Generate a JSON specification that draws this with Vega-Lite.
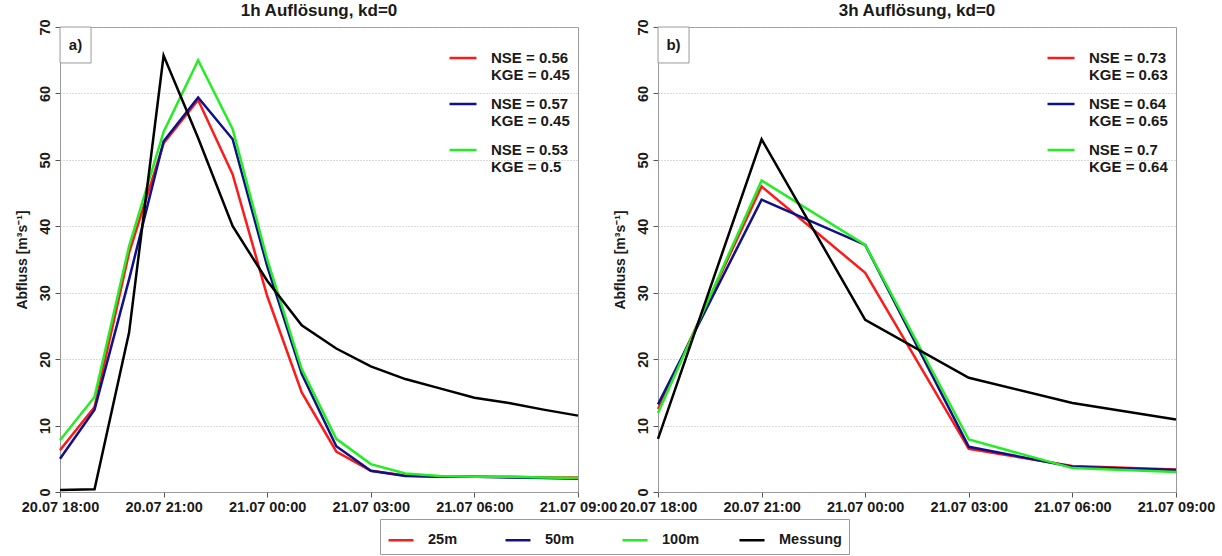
{
  "$schema": "https://vega.github.io/schema/vega-lite/v6.json",
  "background": "white",
  "padding": {"left": 14, "top": 1, "right": 10, "bottom": 0},
  "datasets": {
    "a": [
      {"t": "2021-07-20T18:00:00Z", "25m": 6.3, "50m": 5.0, "100m": 7.8, "Messung": 0.3},
      {"t": "2021-07-20T19:00:00Z", "25m": 12.8, "50m": 12.4, "100m": 14.3, "Messung": 0.4},
      {"t": "2021-07-20T20:00:00Z", "25m": 36.0, "50m": 32.0, "100m": 37.0, "Messung": 24.0},
      {"t": "2021-07-20T21:00:00Z", "25m": 52.5, "50m": 52.8, "100m": 54.2, "Messung": 65.7},
      {"t": "2021-07-20T22:00:00Z", "25m": 59.0, "50m": 59.4, "100m": 65.0, "Messung": 53.3},
      {"t": "2021-07-20T23:00:00Z", "25m": 47.8, "50m": 53.1, "100m": 54.6, "Messung": 40.0},
      {"t": "2021-07-21T00:00:00Z", "25m": 29.5, "50m": 34.0, "100m": 35.0, "Messung": 31.8},
      {"t": "2021-07-21T01:00:00Z", "25m": 15.0, "50m": 17.8, "100m": 18.5, "Messung": 25.1},
      {"t": "2021-07-21T02:00:00Z", "25m": 6.1, "50m": 6.9, "100m": 8.0, "Messung": 21.6},
      {"t": "2021-07-21T03:00:00Z", "25m": 3.2, "50m": 3.2, "100m": 4.2, "Messung": 18.9},
      {"t": "2021-07-21T04:00:00Z", "25m": 2.5, "50m": 2.4, "100m": 2.8, "Messung": 17.0},
      {"t": "2021-07-21T05:00:00Z", "25m": 2.3, "50m": 2.3, "100m": 2.4, "Messung": 15.6},
      {"t": "2021-07-21T06:00:00Z", "25m": 2.3, "50m": 2.3, "100m": 2.3, "Messung": 14.2},
      {"t": "2021-07-21T07:00:00Z", "25m": 2.3, "50m": 2.2, "100m": 2.3, "Messung": 13.4},
      {"t": "2021-07-21T08:00:00Z", "25m": 2.2, "50m": 2.1, "100m": 2.2, "Messung": 12.4},
      {"t": "2021-07-21T09:00:00Z", "25m": 2.2, "50m": 2.0, "100m": 2.1, "Messung": 11.5}
    ],
    "b": [
      {"t": "2021-07-20T18:00:00Z", "25m": 12.5, "50m": 13.2, "100m": 11.9, "Messung": 8.0},
      {"t": "2021-07-20T21:00:00Z", "25m": 46.0, "50m": 44.0, "100m": 46.9, "Messung": 53.1},
      {"t": "2021-07-21T00:00:00Z", "25m": 33.0, "50m": 37.2, "100m": 37.2, "Messung": 25.9},
      {"t": "2021-07-21T03:00:00Z", "25m": 6.5, "50m": 6.8, "100m": 7.9, "Messung": 17.2},
      {"t": "2021-07-21T06:00:00Z", "25m": 3.9, "50m": 3.8, "100m": 3.6, "Messung": 13.4},
      {"t": "2021-07-21T09:00:00Z", "25m": 3.4, "50m": 3.3, "100m": 3.0, "Messung": 10.9}
    ]
  },
  "spacing": 80,
  "bounds": "flush",
  "resolve": {"scale": {"stroke": "independent"}, "legend": {"stroke": "independent"}},
  "hconcat": [
    {
      "width": 518,
      "height": 465,
      "title": "1h Auflösung, kd=0",
      "layer": [
        {
          "data": {"values": [{"tag": "a)"}]},
          "mark": {"type": "point", "shape": "M-1,-1.16H1V1.16H-1Z", "size": 961, "filled": true, "fill": "white", "stroke": "#9a9a9a", "strokeWidth": 1, "opacity": 1},
          "encoding": {
            "x": {"datum": {"year": 2021, "month": 7, "date": 20, "hours": 18, "minutes": 27, "utc": true}, "type": "temporal"},
            "y": {"datum": 67.29, "type": "quantitative"}
          }
        },
        {
          "data": {"values": [{"tag": "a)"}]},
          "mark": {"type": "text", "font": "Liberation Sans", "fontSize": 15, "fontWeight": "bold", "color": "#1a1a1a"},
          "encoding": {
            "x": {"datum": {"year": 2021, "month": 7, "date": 20, "hours": 18, "minutes": 27, "utc": true}, "type": "temporal"},
            "y": {"datum": 67.3, "type": "quantitative"},
            "text": {"field": "tag"}
          }
        },
        {
          "data": {"name": "a"},
          "transform": [{"fold": ["25m", "50m", "100m"], "as": ["series", "value"]}],
          "mark": {"type": "line", "opacity": 0, "strokeWidth": 2.5},
          "encoding": {
            "x": {"field": "t", "type": "temporal"},
            "y": {"field": "value", "type": "quantitative"},
            "stroke": {
              "field": "series", "type": "nominal",
              "scale": {"domain": ["25m", "50m", "100m"], "range": ["#ff1a1a", "#10108a", "#22ee22"]},
              "legend": {"orient": "top-right", "offset": 8, "title": " ", "titleFontSize": 5, "titlePadding": 3, "labelExpr": "datum.label == '25m' ? ['NSE = 0.56', 'KGE = 0.45'] : datum.label == '50m' ? ['NSE = 0.57', 'KGE = 0.45'] : ['NSE = 0.53', 'KGE = 0.5']", "symbolType": "stroke", "symbolSize": 729, "symbolStrokeWidth": 2.5, "labelOffset": 13, "rowPadding": 6, "labelLimit": 300, "labelFontSize": 15}
            }
          }
        },
        {
          "data": {"name": "a"},
          "transform": [{"fold": ["25m", "50m", "100m", "Messung"], "as": ["series", "value"]}],
          "mark": {"type": "line", "strokeWidth": 2.5},
          "encoding": {
            "x": {
              "field": "t", "type": "temporal", "title": null,
              "scale": {"type": "utc", "domain": ["2021-07-20T18:00:00Z", "2021-07-21T09:00:00Z"]},
              "axis": {"format": "%d.%m %H:%M", "tickCount": 6}
            },
            "y": {
              "field": "value", "type": "quantitative", "title": "Abfluss [m³s⁻¹]",
              "scale": {"domain": [0, 70], "nice": false},
              "axis": {"values": [0, 10, 20, 30, 40, 50, 60, 70]}
            },
            "color": {
              "field": "series", "type": "nominal",
              "scale": {"domain": ["25m", "50m", "100m", "Messung"], "range": ["#ff1a1a", "#10108a", "#22ee22", "#000000"]},
              "legend": {"orient": "bottom", "direction": "horizontal", "title": null, "symbolType": "stroke", "symbolSize": 625, "symbolStrokeWidth": 2.5, "labelOffset": 13, "columnPadding": 9, "gridAlign": "all", "strokeColor": "#9a9a9a", "padding": 7, "offset": 5}
            }
          }
        }
      ]
    },
    {
      "width": 518,
      "height": 465,
      "title": "3h Auflösung, kd=0",
      "layer": [
        {
          "data": {"values": [{"tag": "b)"}]},
          "mark": {"type": "point", "shape": "M-1,-1.16H1V1.16H-1Z", "size": 961, "filled": true, "fill": "white", "stroke": "#9a9a9a", "strokeWidth": 1, "opacity": 1},
          "encoding": {
            "x": {"datum": {"year": 2021, "month": 7, "date": 20, "hours": 18, "minutes": 27, "utc": true}, "type": "temporal"},
            "y": {"datum": 67.29, "type": "quantitative"}
          }
        },
        {
          "data": {"values": [{"tag": "b)"}]},
          "mark": {"type": "text", "font": "Liberation Sans", "fontSize": 15, "fontWeight": "bold", "color": "#1a1a1a"},
          "encoding": {
            "x": {"datum": {"year": 2021, "month": 7, "date": 20, "hours": 18, "minutes": 27, "utc": true}, "type": "temporal"},
            "y": {"datum": 67.3, "type": "quantitative"},
            "text": {"field": "tag"}
          }
        },
        {
          "data": {"name": "b"},
          "transform": [{"fold": ["25m", "50m", "100m"], "as": ["series", "value"]}],
          "mark": {"type": "line", "opacity": 0, "strokeWidth": 2.5},
          "encoding": {
            "x": {"field": "t", "type": "temporal"},
            "y": {"field": "value", "type": "quantitative"},
            "stroke": {
              "field": "series", "type": "nominal",
              "scale": {"domain": ["25m", "50m", "100m"], "range": ["#ff1a1a", "#10108a", "#22ee22"]},
              "legend": {"orient": "top-right", "offset": 8, "title": " ", "titleFontSize": 5, "titlePadding": 3, "labelExpr": "datum.label == '25m' ? ['NSE = 0.73', 'KGE = 0.63'] : datum.label == '50m' ? ['NSE = 0.64', 'KGE = 0.65'] : ['NSE = 0.7', 'KGE = 0.64']", "symbolType": "stroke", "symbolSize": 729, "symbolStrokeWidth": 2.5, "labelOffset": 13, "rowPadding": 6, "labelLimit": 300, "labelFontSize": 15}
            }
          }
        },
        {
          "data": {"name": "b"},
          "transform": [{"fold": ["25m", "50m", "100m", "Messung"], "as": ["series", "value"]}],
          "mark": {"type": "line", "strokeWidth": 2.5},
          "encoding": {
            "x": {
              "field": "t", "type": "temporal", "title": null,
              "scale": {"type": "utc", "domain": ["2021-07-20T18:00:00Z", "2021-07-21T09:00:00Z"]},
              "axis": {"format": "%d.%m %H:%M", "tickCount": 6}
            },
            "y": {
              "field": "value", "type": "quantitative", "title": "Abfluss [m³s⁻¹]",
              "scale": {"domain": [0, 70], "nice": false},
              "axis": {"values": [0, 10, 20, 30, 40, 50, 60, 70]}
            },
            "color": {
              "field": "series", "type": "nominal",
              "scale": {"domain": ["25m", "50m", "100m", "Messung"], "range": ["#ff1a1a", "#10108a", "#22ee22", "#000000"]},
              "legend": {"orient": "bottom", "direction": "horizontal", "title": null, "symbolType": "stroke", "symbolSize": 625, "symbolStrokeWidth": 2.5, "labelOffset": 13, "columnPadding": 9, "gridAlign": "all", "strokeColor": "#9a9a9a", "padding": 7, "offset": 5}
            }
          }
        }
      ]
    }
  ],
  "config": {
    "font": "Liberation Sans",
    "view": {"stroke": "#9a9a9a", "strokeWidth": 1},
    "title": {"font": "Liberation Sans", "fontSize": 17, "fontWeight": "bold", "color": "#1a1a1a", "offset": -1},
    "axis": {
      "labelFont": "Liberation Sans", "labelFontSize": 14.5, "labelFontWeight": "bold", "labelColor": "#1a1a1a",
      "titleFont": "Liberation Sans", "titleFontSize": 14, "titleFontWeight": "bold", "titleColor": "#1a1a1a",
      "domainColor": "#9a9a9a", "tickColor": "#555555", "tickSize": 5,
      "gridColor": "#b5b5b5", "gridDash": [1, 2]
    },
    "axisX": {"grid": false, "labelPadding": 3, "labelFlush": false, "labelOverlap": false, "labelBound": false},
    "axisY": {"grid": true, "labelAngle": -90, "labelPadding": 3, "titlePadding": 8},
    "legend": {
      "labelFont": "Liberation Sans", "labelFontSize": 14.5, "labelFontWeight": "bold", "labelColor": "#1a1a1a",
      "layout": {"bottom": {"anchor": "middle"}}
    }
  }
}
